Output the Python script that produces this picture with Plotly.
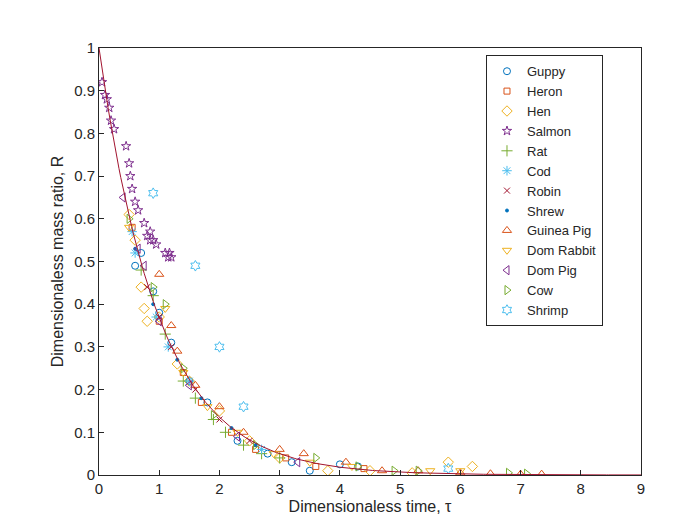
import numpy as np
import plotly.graph_objects as go

species = ["Guppy","Heron","Hen","Salmon","Rat","Cod","Robin","Shrew","Guinea Pig","Dom Rabbit","Dom Pig","Cow","Shrimp"]
symbols = ["circle-open","square-open","diamond-open","star-open","cross-thin-open","asterisk-open","x-thin-open","circle","triangle-up-open","triangle-down-open","triangle-left-open","triangle-right-open","hexagram-open"]
colors = ["#0072BD","#D95319","#EDB120","#7E2F8E","#77AC30","#4DBEEE","#A2142F","#0072BD","#D95319","#EDB120","#7E2F8E","#77AC30","#4DBEEE"]
sizes = [7,6,8,7,8,8,6,3,8,8,8,8,8]

tau = {
"Guppy":[0.6,0.7,0.9,1.0,1.2,1.5,1.8,2.3,2.8,3.2,3.5,4.0,4.3],
"Heron":[0.55,1.0,1.4,1.7,2.2,2.6,3.1,3.6,4.4],
"Hen":[0.5,0.6,0.7,0.75,0.8,1.0,1.3,1.5,2.0,2.5,3.0,3.8,4.5,5.2,5.8,6.2],
"Salmon":[0.05,0.1,0.13,0.17,0.2,0.25,0.45,0.5,0.52,0.55,0.6,0.65,0.75,0.8,0.85,0.85,0.9,0.95,1.1,1.15,1.17,1.2],
"Rat":[0.7,0.9,1.1,1.4,1.6,1.9,2.1,2.4,2.7,3.0],
"Cod":[0.55,0.6,0.95,1.15,1.5,2.7],
"Robin":[0.8,1.0,1.2,1.6,2.0,2.5],
"Shrew":[0.6,0.9,1.3,1.7,2.2,2.6],
"Guinea Pig":[1.0,1.2,1.3,1.6,2.0,2.4,3.0,3.4,4.1,4.7,5.3,6.0,6.5,7.0,7.35],
"Dom Rabbit":[0.5,1.1,1.4,1.8,2.3,2.9,3.5,4.2,5.5,6.0],
"Dom Pig":[0.4,0.65,0.75,1.0,1.5,2.3,3.3],
"Cow":[0.5,0.9,1.1,1.4,1.9,2.6,3.6,4.3,4.9,5.3,6.8,7.1],
"Shrimp":[0.9,1.6,2.0,2.4,5.8],
}
ratio = {
"Guppy":[0.49,0.52,0.43,0.38,0.31,0.22,0.17,0.08,0.05,0.03,0.01,0.025,0.02],
"Heron":[0.58,0.36,0.24,0.17,0.10,0.06,0.04,0.02,0.015],
"Hen":[0.61,0.55,0.44,0.39,0.36,0.37,0.26,0.22,0.15,0.08,0.04,0.01,0.01,0.005,0.03,0.02],
"Salmon":[0.92,0.89,0.88,0.86,0.83,0.81,0.77,0.73,0.70,0.67,0.64,0.62,0.59,0.56,0.55,0.57,0.55,0.54,0.52,0.51,0.52,0.51],
"Rat":[0.48,0.42,0.33,0.22,0.18,0.13,0.10,0.07,0.05,0.04],
"Cod":[0.57,0.52,0.37,0.30,0.22,0.06],
"Robin":[0.44,0.37,0.30,0.20,0.13,0.08],
"Shrew":[0.53,0.40,0.27,0.18,0.11,0.07],
"Guinea Pig":[0.47,0.35,0.29,0.21,0.16,0.10,0.06,0.05,0.03,0.01,0.01,0.005,0.003,0.002,0.002],
"Dom Rabbit":[0.58,0.39,0.24,0.16,0.10,0.05,0.03,0.02,0.01,0.01],
"Dom Pig":[0.65,0.53,0.49,0.36,0.21,0.09,0.03],
"Cow":[0.60,0.44,0.40,0.25,0.14,0.07,0.04,0.02,0.01,0.01,0.005,0.003],
"Shrimp":[0.66,0.49,0.30,0.16,0.015],
}

fig = go.Figure()
for s, sym, c, sz in zip(species, symbols, colors, sizes):
    fig.add_trace(go.Scatter(x=tau[s], y=ratio[s], mode="markers", name=s,
        marker=dict(symbol=sym, color=c, size=sz, line=dict(color=c, width=1))))

decay_rate = 1.0
t_model = np.linspace(0, 9, 300)
fig.add_trace(go.Scatter(x=t_model, y=np.exp(-decay_rate*t_model), mode="lines",
    line=dict(color="#A2142F", width=1), showlegend=False))

ax = dict(showline=True, mirror=True, linecolor="#262626", linewidth=1, ticks="inside",
          ticklen=5, tickcolor="#262626", showgrid=False, zeroline=False, automargin=False,
          tickfont=dict(size=15, color="#262626"))
fig.update_layout(
    width=700, height=525, plot_bgcolor="white", paper_bgcolor="white",
    font=dict(family="Arial, Liberation Sans", color="#262626"),
    margin=dict(l=91, r=67, t=40, b=58),
    xaxis=dict(range=[0, 9], dtick=1, title=dict(text="Dimensionaless time, τ", font=dict(size=16), standoff=4), **ax),
    yaxis=dict(range=[0, 1], dtick=0.1, title=dict(text="Dimensionaless mass ratio, R", font=dict(size=16), standoff=6), **ax),
    legend=dict(x=0.714, y=0.983, xanchor="left", yanchor="top", bordercolor="#262626",
                borderwidth=1, bgcolor="white", font=dict(size=13), tracegroupgap=0, itemwidth=30),
)
fig.write_html("out.html")
